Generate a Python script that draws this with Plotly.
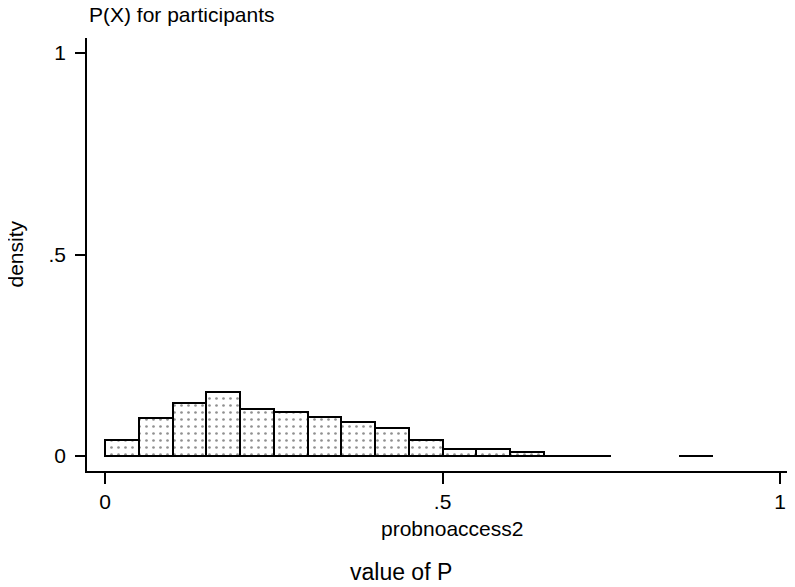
import plotly.graph_objects as go

bin_left = [0.00, 0.05, 0.10, 0.15, 0.20, 0.25, 0.30, 0.35, 0.40, 0.45,
            0.50, 0.55, 0.60, 0.65, 0.70, 0.85]
density = [0.040, 0.095, 0.132, 0.158, 0.117, 0.109, 0.097, 0.085, 0.069, 0.039,
           0.018, 0.018, 0.010, 0.001, 0.001, 0.001]
bin_width = 0.05
x_ticks = [0, 0.5, 1]
x_ticktext = ["0", ".5", "1"]
y_ticks = [0, 0.5, 1]
y_ticktext = ["0", ".5", "1"]

fig = go.Figure(go.Bar(
    x=[b + bin_width / 2 for b in bin_left],
    y=density,
    width=bin_width,
    marker=dict(
        color="white",
        line=dict(color="black", width=2),
        pattern=dict(shape=".", fgcolor="#222222", bgcolor="white",
                     size=7, solidity=0.12, fillmode="overlay"),
    ),
    showlegend=False,
))

font = dict(family="Liberation Sans, Arial, sans-serif", size=21, color="black")

fig.update_layout(
    width=787, height=579,
    margin=dict(l=79, r=0, t=30, b=116),
    paper_bgcolor="white", plot_bgcolor="white",
    font=font,
    bargap=0,
    xaxis=dict(range=[-0.0267, 1.022], tickvals=x_ticks, ticktext=x_ticktext,
               showline=True, linecolor="black", linewidth=1.5,
               ticks="outside", ticklen=11, tickwidth=1.5, tickcolor="black",
               showgrid=False, zeroline=False),
    yaxis=dict(range=[-0.0372, 1.0372], tickvals=y_ticks, ticktext=y_ticktext,
               showline=True, linecolor="black", linewidth=1.5,
               ticks="outside", ticklen=10, tickwidth=1.5, tickcolor="black",
               showgrid=False, zeroline=False, ticklabelstandoff=5),
    annotations=[
        dict(text="P(X) for participants", xref="paper", yref="paper",
             x=0.0, y=1.0, xanchor="left", yanchor="middle", yshift=24,
             showarrow=False, font=font),
        dict(text="density", xref="paper", yref="paper", x=0, y=0.5,
             xanchor="center", yanchor="middle",
             xshift=-72, textangle=-90, showarrow=False, font=font),
        dict(text="probnoaccess2", xref="paper", yref="paper", x=0.515, y=0,
             xanchor="center", yshift=-57, yanchor="middle", showarrow=False, font=font),
        dict(text="value of P", xref="paper", yref="paper", x=0.444, y=0,
             xanchor="center", yshift=-101, yanchor="middle", showarrow=False,
             font=dict(family=font["family"], size=23, color="black")),
    ],
)

fig.write_html("out.html")
